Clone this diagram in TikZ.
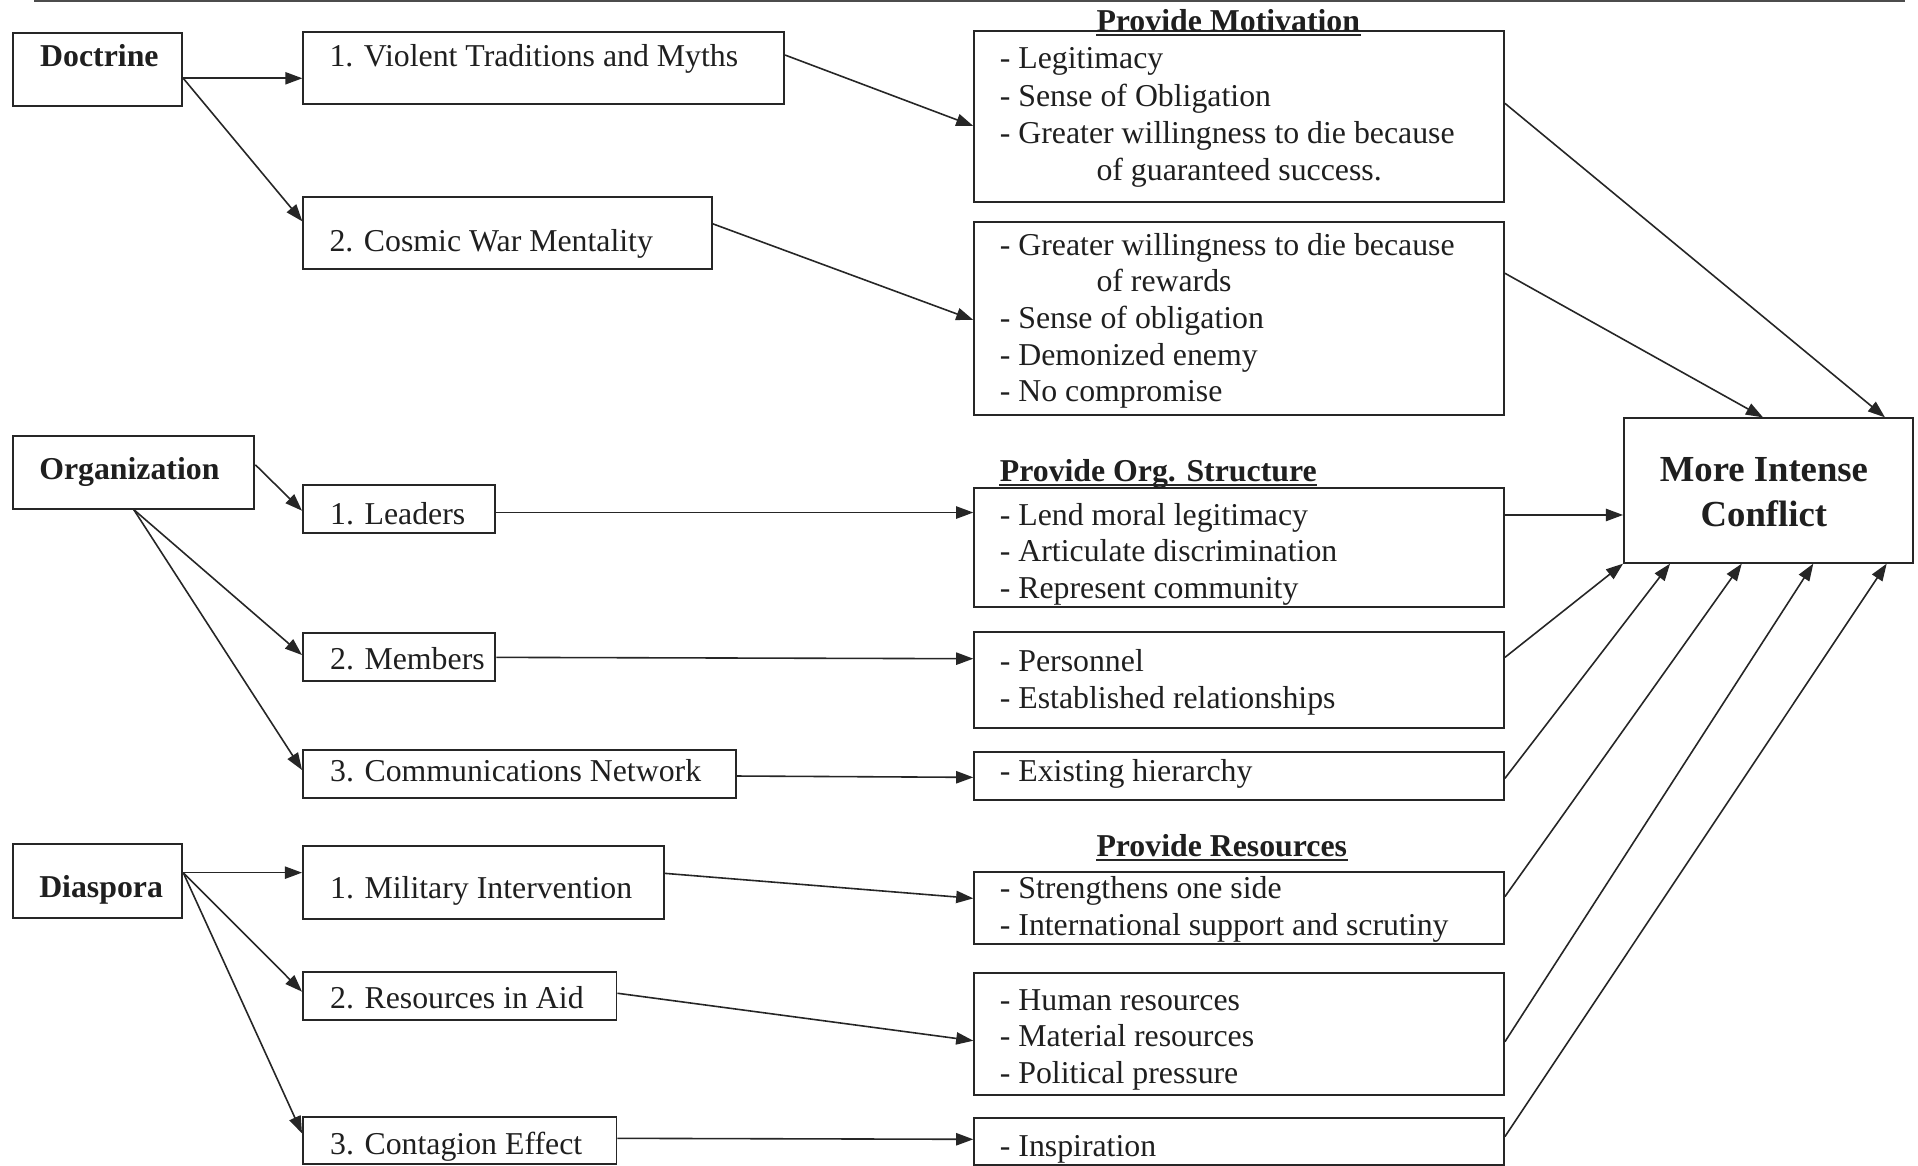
\documentclass[tikz,border=0pt]{standalone}
\usepackage{fontspec}
\setmainfont{Liberation Serif}
\usetikzlibrary{fit,arrows.meta}
\tikzset{
  boxst/.style={draw=black!85, line width=0.8pt, inner sep=0pt},
  txt/.style={inner sep=0pt, anchor=base west, font=\fontsize{13}{15}\selectfont, text=black!88},
  btxt/.style={txt, font=\fontsize{13}{15}\selectfont\bfseries},
  hdr/.style={btxt},
  conn/.style={draw=black!85, line width=0.65pt, -{Triangle[length=7pt,width=5pt]}},
  uline/.style={draw=black!85, line width=0.8pt}
}
\newcommand\bx[5]{\node[boxst, fit={(#2,#3) (#4,#5)}] (#1) {};}
\newcommand\tx[4]{\node[txt] (#1) at (#2,#3) {#4};}
\begin{document}
\begin{tikzpicture}[x=0.5pt,y=-0.5pt]
\useasboundingbox (0,0) rectangle (1568,953);
\fill[white] (0,0) rectangle (1568,953);
\draw[line width=0.8pt, black!70] (28,1) -- (1557,1);

% ---- boxes ----
\bx{doc}{11}{27}{149}{86.5}
\bx{v1}{248}{26.5}{641}{85.3}
\bx{v2}{248}{161}{582}{219.7}
\bx{mot1}{796.5}{25}{1229.5}{165}
\bx{mot2}{796.5}{181.2}{1229.5}{339}
\bx{org}{10.7}{356.4}{208}{415.8}
\bx{lead}{247.7}{396.8}{405}{436}
\bx{mem}{247.7}{517.2}{405}{556.5}
\bx{comm}{247.7}{613.2}{601.5}{652.6}
\bx{os1}{796.5}{398.7}{1229.5}{496}
\bx{pers}{796.5}{516.4}{1229.5}{595}
\bx{hier}{796.5}{614.5}{1229.5}{654}
\bx{conf}{1327.7}{342}{1564.2}{460}
\bx{dia}{10.7}{690.3}{149}{750.2}
\bx{mil}{247.7}{691.4}{543}{751}
\bx{res}{247.7}{794.3}{504}{833.9}
\bx{cont}{247.7}{912.9}{504}{951.6}
\bx{r1}{796.5}{712.6}{1229.5}{772}
\bx{r2}{796.5}{795.7}{1229.5}{895.2}
\bx{insp}{796.5}{914.3}{1229.5}{952.4}

% ---- left texts ----
\node[btxt] (tdoc) at (32.5,54.5) {Doctrine};
\tx{tv1}{269}{54.5}{1. Violent Traditions and Myths}
\tx{tv2}{269}{206}{2. Cosmic War Mentality}
\node[btxt] (torg) at (31.7,392.4) {Organization};
\tx{tlead}{269.5}{428.4}{1. Leaders}
\tx{tmem}{269.5}{547.7}{2. Members}
\tx{tcomm}{269.5}{639}{3. Communications Network}
\node[btxt] (tdia) at (31.7,733.6) {Diaspora};
\tx{tmil}{269.5}{734.4}{1. Military Intervention}
\tx{tres}{269.5}{824.3}{2. Resources in Aid}
\tx{tcont}{269.5}{944.2}{3. Contagion Effect}

% ---- headers ----
\node[hdr] (h1) at (896,26) {Provide Motivation};
\draw[uline] ([yshift=-1.4pt]h1.base west) -- ([yshift=-1.4pt]h1.base east);
\node[hdr] (h2) at (817,393.8) {Provide Org. Structure};
\draw[uline] ([yshift=-1.4pt]h2.base west) -- ([yshift=-1.4pt]h2.base east);
\node[hdr] (h3) at (896,700.6) {Provide Resources};
\draw[uline] ([yshift=-1.4pt]h3.base west) -- ([yshift=-1.4pt]h3.base east);

% ---- right texts ----
\tx{m1a}{817}{55.9}{- Legitimacy}
\tx{m1b}{817}{86.7}{- Sense of Obligation}
\tx{m1c}{817}{117.2}{- Greater willingness to die because}
\tx{m1d}{896}{147.2}{of guaranteed success.}
\tx{m2a}{817}{208.5}{- Greater willingness to die because}
\tx{m2b}{896}{238.5}{of rewards}
\tx{m2c}{817}{268.4}{- Sense of obligation}
\tx{m2d}{817}{298.4}{- Demonized enemy}
\tx{m2e}{817}{328.4}{- No compromise}
\tx{o1a}{817}{429.2}{- Lend moral legitimacy}
\tx{o1b}{817}{459.4}{- Articulate discrimination}
\tx{o1c}{817}{489.4}{- Represent community}
\tx{pa}{817}{549.1}{- Personnel}
\tx{pb}{817}{579.1}{- Established relationships}
\tx{ha}{817}{639.1}{- Existing hierarchy}
\tx{r1a}{817}{734.4}{- Strengthens one side}
\tx{r1b}{817}{764.4}{- International support and scrutiny}
\tx{r2a}{817}{825.7}{- Human resources}
\tx{r2b}{817}{855.7}{- Material resources}
\tx{r2c}{817}{885.6}{- Political pressure}
\tx{ia}{817}{945.6}{- Inspiration}

\node[inner sep=0pt, anchor=base, font=\fontsize{15}{18}\selectfont\bfseries, text=black!88] (tconf1) at (1442,393.8) {More Intense};
\node[inner sep=0pt, anchor=base, font=\fontsize{15}{18}\selectfont\bfseries, text=black!88] (tconf2) at (1442,430.6) {Conflict};

% ---- connectors ----
\draw[conn] (doc.east |- 0,64) -- (v1.west |- 0,64);
\draw[conn] (doc.east |- 0,64) -- (v2.west |- 0,181);
\draw[conn] (v1.east |- 0,45) -- (mot1.west |- 0,103);
\draw[conn] (v2.east |- 0,183) -- (mot2.west |- 0,261.6);
\draw[conn] (mot1.east |- 0,84.5) -- (conf.north -| 1541,0);
\draw[conn] (mot2.east |- 0,223.4) -- (conf.north -| 1441.3,0);

\draw[conn] (org.east |- 0,380) -- (lead.west |- 0,417.5);
\draw[conn] (org.south) -- (mem.west |- 0,535.5);
\draw[conn] (org.south) -- (comm.west |- 0,629.5);
\draw[conn] (lead.east |- 0,419) -- (os1.west |- 0,419);
\draw[conn] (mem.east |- 0,537.4) -- (pers.west |- 0,538.5);
\draw[conn] (comm.east |- 0,634.4) -- (hier.west |- 0,635.5);

\draw[conn] (os1.east |- 0,421) -- (conf.west |- 0,421);
\draw[conn] (pers.east |- 0,537.4) -- (conf.south west);
\draw[conn] (hier.east |- 0,636.3) -- (conf.south -| 1365.3,0);
\draw[conn] (r1.east |- 0,733) -- (conf.south -| 1423.9,0);
\draw[conn] (r2.east |- 0,851.6) -- (conf.south -| 1482.4,0);
\draw[conn] (insp.east |- 0,929.2) -- (conf.south -| 1542.4,0);

\draw[conn] (dia.east |- 0,713.4) -- (mil.west |- 0,713.4);
\draw[conn] (dia.east |- 0,713.4) -- (res.west |- 0,810.7);
\draw[conn] (dia.east |- 0,713.4) -- (cont.west |- 0,926.5);
\draw[conn] (mil.east |- 0,714) -- (r1.west |- 0,734.4);
\draw[conn] (res.east |- 0,812) -- (r2.west |- 0,850.8);
\draw[conn] (cont.east |- 0,930.6) -- (insp.west |- 0,931.4);
\end{tikzpicture}
\end{document}
